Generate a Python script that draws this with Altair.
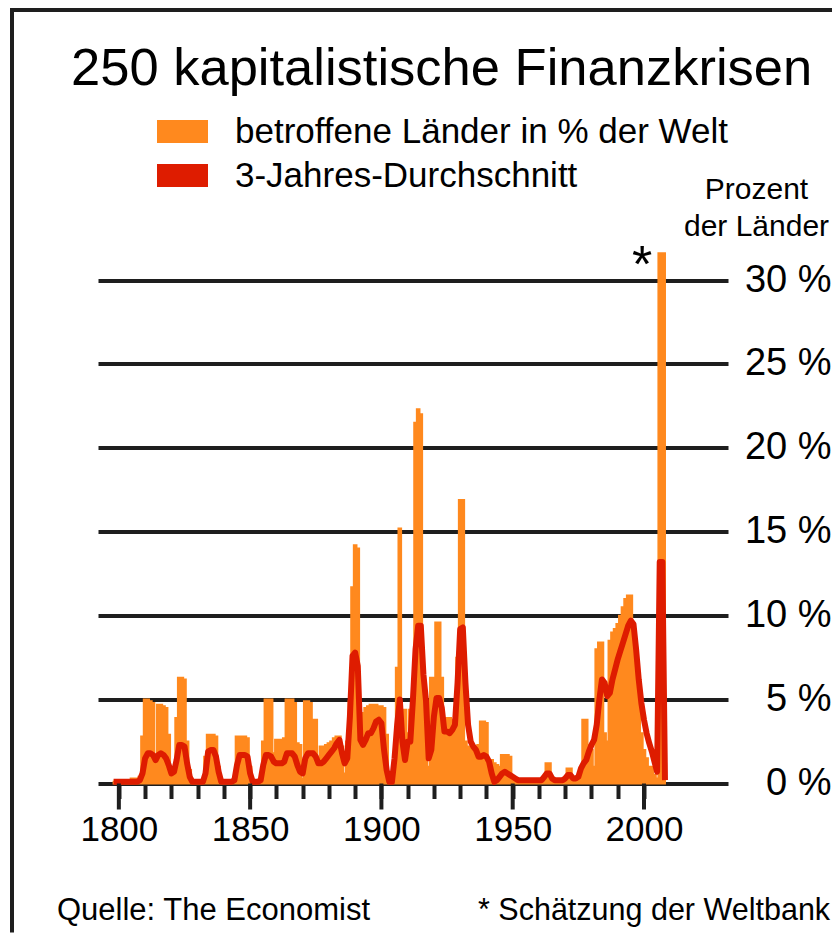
import altair as alt
import pandas as pd

# ---------------- data ----------------
years = list(range(1798, 2009))

# betroffene Länder in % der Welt (yearly)
share = (
    [0.1, 0.2]
    + [0.2, 0.2, 0.2, 0.2, 0.2, 0.3, 0.3, 0.3, 0.4, 2.8]        # 1800
    + [5.0, 5.0, 4.9, 4.8, 1.6, 4.7, 4.7, 4.6, 4.5, 2.9]        # 1810
    + [0.6, 0.8, 3.9, 6.3, 6.3, 6.2, 2.5, 0.8, 0.2, 0.2]        # 1820
    + [0.2, 0.2, 0.2, 1.6, 2.9, 2.9, 2.9, 2.8, 1.0, 0.2]        # 1830
    + [0.2, 0.2, 0.2, 0.2, 0.3, 2.8, 2.8, 2.8, 2.8, 2.7]        # 1840
    + [1.0, 0.2, 0.1, 0.1, 0.2, 2.5, 5.0, 5.0, 5.0, 1.8]        # 1850
    + [2.6, 2.6, 2.6, 2.7, 5.0, 5.0, 5.0, 4.8, 2.4, 2.3]        # 1860
    + [0.3, 4.9, 4.9, 4.8, 3.8, 3.8, 1.4, 2.2, 2.2, 2.3]        # 1870
    + [2.4, 2.5, 2.7, 2.8, 2.8, 2.2, 0.6, 2.5, 4.9, 11.7]       # 1880
    + [14.2, 14.0, 4.0, 4.2, 4.5, 4.6, 4.7, 4.7, 4.7, 4.6]      # 1890
    + [4.6, 4.5, 2.9, 0.3, 0.3, 0.5, 6.9, 15.2, 4.4, 4.4]       # 1900
    + [3.0, 4.4, 4.7, 21.5, 22.3, 22.0, 5.0, 4.0, 1.0, 6.3]     # 1910
    + [6.3, 9.6, 9.6, 6.3, 3.9, 3.9, 3.9, 3.8, 3.8, 7.5]        # 1920
    + [16.9, 16.9, 2.5, 2.2, 2.2, 2.2, 2.2, 2.3, 3.7, 3.7]      # 1930
    + [3.6, 1.4, 1.4, 1.2, 1.1, 1.0, 1.7, 1.7, 1.7, 1.6]        # 1940
    + [0.4, 0.2, 0.2, 0.2, 0.2, 0.2, 0.2, 0.2, 0.2, 0.2]        # 1950
    + [0.2, 0.2, 0.3, 1.2, 1.2, 0.3, 0.2, 0.2, 0.2, 0.2]        # 1960
    + [0.3, 0.9, 0.9, 0.3, 0.3, 0.4, 0.5, 3.8, 3.8, 2.3]        # 1970
    + [2.0, 1.0, 8.0, 8.4, 8.4, 3.0, 2.5, 8.5, 9.0, 9.2]        # 1980
    + [9.5, 10.0, 10.5, 11.0, 11.2, 11.2, 9.0, 7.0, 5.5, 3.0]   # 1990
    + [2.0, 1.5, 1.0, 1.0, 0.5, 0.3, 31.6, 31.6, 31.6]          # 2000
)

# 3-Jahres-Durchschnitt
avg3 = (
    [0.1, 0.1]
    + [0.1, 0.1, 0.1, 0.1, 0.1, 0.1, 0.1, 0.1, 0.2, 0.6]        # 1800
    + [1.5, 1.8, 1.8, 1.7, 1.4, 1.7, 1.8, 1.7, 1.5, 1.1]        # 1810
    + [0.6, 0.7, 1.4, 2.3, 2.3, 2.2, 1.2, 0.4, 0.1, 0.1]        # 1820
    + [0.1, 0.1, 0.1, 0.6, 1.9, 2.0, 2.0, 1.6, 0.7, 0.1]        # 1830
    + [0.1, 0.1, 0.1, 0.1, 0.2, 1.1, 1.7, 1.7, 1.7, 1.6]        # 1840
    + [0.6, 0.1, 0.1, 0.1, 0.2, 1.1, 1.7, 1.7, 1.6, 1.3]        # 1850
    + [1.2, 1.2, 1.2, 1.3, 1.8, 1.8, 1.8, 1.6, 1.1, 0.7]        # 1860
    + [0.6, 1.5, 1.8, 1.8, 1.8, 1.6, 1.2, 1.2, 1.3, 1.5]        # 1870
    + [1.7, 1.9, 2.1, 2.4, 2.6, 1.8, 1.2, 1.5, 4.0, 7.6]        # 1880
    + [7.8, 7.0, 2.6, 2.3, 2.6, 3.0, 3.0, 3.3, 3.7, 3.8]        # 1890
    + [3.6, 2.0, 0.8, 0.1, 0.1, 1.5, 3.5, 5.0, 2.5, 1.4]        # 1900
    + [2.5, 2.5, 5.0, 8.0, 9.4, 9.4, 6.5, 4.9, 1.5, 2.0]        # 1910
    + [4.0, 5.1, 5.1, 4.5, 3.1, 3.1, 3.0, 3.2, 3.5, 6.0]        # 1920
    + [9.2, 9.3, 6.0, 3.5, 2.5, 2.2, 2.0, 1.6, 1.6, 1.7]        # 1930
    + [1.6, 1.3, 0.6, 0.1, 0.2, 0.4, 0.6, 0.7, 0.6, 0.5]        # 1940
    + [0.4, 0.3, 0.2, 0.2, 0.2, 0.2, 0.2, 0.2, 0.2, 0.2]        # 1950
    + [0.2, 0.2, 0.4, 0.6, 0.6, 0.3, 0.2, 0.2, 0.2, 0.2]        # 1960
    + [0.3, 0.5, 0.5, 0.3, 0.3, 0.4, 0.9, 1.2, 1.4, 1.9]        # 1970
    + [2.3, 2.6, 3.5, 5.0, 6.2, 6.0, 5.2, 5.4, 6.2, 6.8]        # 1980
    + [7.4, 7.9, 8.4, 8.9, 9.4, 9.7, 9.5, 8.0, 6.2, 4.8]        # 1990
    + [3.8, 3.0, 2.4, 1.9, 1.3, 0.7, 13.2, 13.2, 0.2]           # 2000
)

series_names = ["betroffene Länder in % der Welt", "3-Jahres-Durchschnitt"]
minor_tick_years = list(range(1800, 2001, 10))
major_tick_years = [1800, 1850, 1900, 1950, 2000]
y_ticks = [0, 5, 10, 15, 20, 25, 30]
title_text = "250 kapitalistische Finanzkrisen"
source_text = "Quelle: The Economist"
note_text = "* Schätzung der Weltbank"
note_mark = "*"
note_year = [1999.3]
note_value = [30.85]

# ---------------- styling ----------------
ORANGE = "#FF891E"
RED = "#DE1C00"
DARK = "#1E1E1E"
FONT = "Liberation Sans"
W, H = 630, 537
PAD = {"left": 90, "top": 238.5, "right": 104, "bottom": 149.5}

df = pd.DataFrame({
    "year": years + years,
    "value": share + avg3,
    "series": [series_names[0]] * len(years) + [series_names[1]] * len(years),
})

x_enc = alt.X(
    "year:Q",
    scale=alt.Scale(domain=[1792.06, 2032.0], nice=False, zero=False),
    axis=alt.Axis(
        values=minor_tick_years, format="d", title=None, grid=False, domain=False,
        ticks=True, tickSize=15, tickWidth=4, tickColor=DARK,
        labelExpr="datum.value % 50 == 0 ? datum.label : ''",
        labelFontSize=35, labelFont=FONT, labelColor="black", labelPadding=14,
        labelOverlap=False, labelBaseline="top",
    ),
)
y_enc = alt.Y(
    "value:Q",
    scale=alt.Scale(domain=[0, 32], nice=False, zero=True),
    axis=alt.Axis(
        orient="right", values=y_ticks, grid=True, gridColor=DARK, gridWidth=4,
        gridOpacity=1, domain=False, ticks=False,
        labelExpr="datum.value + ' %'", labelFontSize=38, labelFont=FONT,
        labelColor="black", labelAlign="right", labelBaseline="middle",
        labelPadding=103, labelOverlap=False,
        title=["Prozent", "der Länder"], titleAngle=0, titleAlign="center",
        titleBaseline="alphabetic", titleX=28, titleY=-48.5, titleFontSize=30,
        titleFont=FONT, titleFontWeight="normal", titleColor="black",
        titleLineHeight=37,
    ),
)
color_scale = alt.Scale(domain=series_names, range=[ORANGE, RED])

legend = alt.Legend(
    title=None, orient="none", legendX=59, legendY=-137, direction="vertical",
    symbolType="M-1,-0.451L1,-0.451L1,0.451L-1,0.451Z", symbolSize=2601,
    symbolStrokeWidth=0, symbolOpacity=1, labelFontSize=35, labelFont=FONT,
    labelColor="black", labelOffset=27, labelLimit=800, rowPadding=0,
    clipHeight=44, padding=0,
)

base = alt.Chart(df)

area = base.transform_filter(alt.datum.series == series_names[0]).mark_area(
    interpolate="step", stroke=ORANGE, strokeWidth=2
).encode(x=x_enc, y=y_enc, color=alt.Color("series:N", scale=color_scale, legend=legend))

line = base.transform_filter(alt.datum.series == series_names[1]).mark_line(
    strokeWidth=6, strokeJoin="round"
).encode(x=x_enc, y=y_enc, color=alt.Color("series:N", scale=color_scale, legend=None))

major = alt.Chart(pd.DataFrame({"year": major_tick_years})).mark_rule(
    color=DARK, strokeWidth=4
).encode(x=x_enc, y=alt.value(H), y2=alt.value(H + 26))

star = alt.Chart(pd.DataFrame({"year": note_year, "value": note_value, "t": [note_mark]})).mark_text(
    font=FONT, fontSize=52, color="black", baseline="middle", align="center"
).encode(x=x_enc, y=y_enc, text="t:N")

one = pd.DataFrame({"k": [0]})
title = alt.Chart(one).mark_text(
    text=title_text, font=FONT, fontSize=52.5, color="black", align="left", baseline="alphabetic"
).encode(x=alt.value(-27), y=alt.value(-161.5))
source = alt.Chart(one).mark_text(
    text=source_text, font=FONT, fontSize=31, color="black", align="left", baseline="alphabetic"
).encode(x=alt.value(-41), y=alt.value(673.5))
note = alt.Chart(one).mark_text(
    text=note_text, font=FONT, fontSize=30.5, color="black", align="left", baseline="alphabetic"
).encode(x=alt.value(380), y=alt.value(673.5))

frame_left = alt.Chart(one).mark_rule(color=DARK, strokeWidth=4).encode(
    x=alt.value(-86), y=alt.value(-236.5), y2=alt.value(686)
)
frame_top = alt.Chart(one).mark_rule(color=DARK, strokeWidth=4).encode(
    x=alt.value(-88), x2=alt.value(734), y=alt.value(-236.5)
)

chart = alt.layer(
    area, line, major, star, title, source, note, frame_left, frame_top
).properties(
    width=W, height=H,
    padding=PAD,
    autosize=alt.AutoSizeParams(type="none"),
).configure(background="white").configure_view(stroke=None)

chart.save("out.html", embed_options={"renderer": "svg", "actions": False})
